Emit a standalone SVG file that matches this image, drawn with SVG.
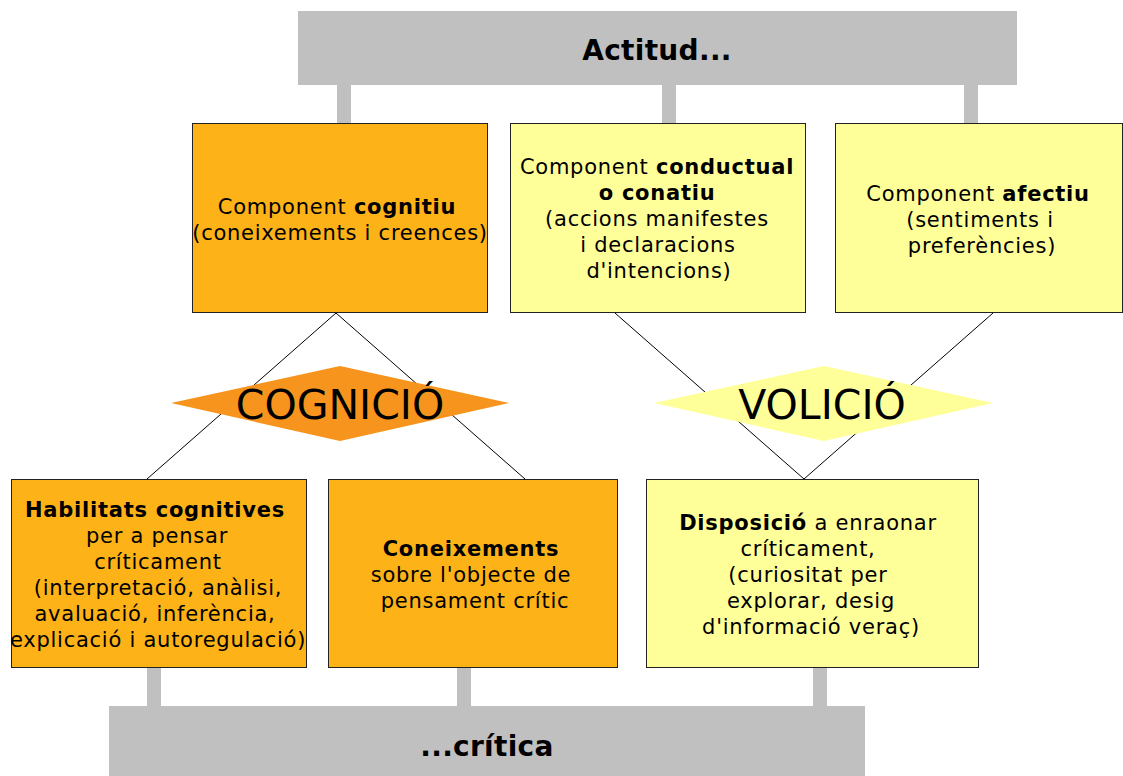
<svg xmlns="http://www.w3.org/2000/svg" width="1123" height="776" viewBox="0 0 1123 776">
<style>
text{font-family:"DejaVu Sans","Verdana",sans-serif;fill:#000;}
.t{font-size:21px;letter-spacing:0.75px;text-anchor:middle;}
.b{font-weight:bold;}
.bar{fill:#C0C0C0;}
.stub{fill:#C0C0C0;}
.org{fill:#FDB218;stroke:#222;stroke-width:1;}
.yel{fill:#FFFF99;stroke:#222;stroke-width:1;}
.line{stroke:#000;stroke-width:1;fill:none;}
.big{font-size:41px;text-anchor:middle;}
.head{font-size:28px;font-weight:bold;text-anchor:middle;letter-spacing:0.3px;}
</style>
<rect width="1123" height="776" fill="#fff"/>
<g id="connectors">
<rect class="stub" x="337" y="85" width="14" height="38"/>
<rect class="stub" x="662" y="85" width="14" height="38"/>
<rect class="stub" x="964" y="85" width="14" height="38"/>
<rect class="stub" x="147" y="667" width="14" height="39"/>
<rect class="stub" x="457" y="667" width="14" height="39"/>
<rect class="stub" x="813" y="667" width="14" height="39"/>
<line class="line" x1="336" y1="313" x2="147" y2="479"/>
<line class="line" x1="336" y1="313" x2="525" y2="479"/>
<line class="line" x1="615" y1="313" x2="804" y2="479"/>
<line class="line" x1="993" y1="313" x2="804" y2="479"/>
</g>
<g id="actitud">
<rect class="bar" x="298" y="11" width="719" height="74"/>
<text class="head" x="657" y="60">Actitud...</text>
</g>
<g id="critica">
<rect class="bar" x="109" y="706" width="756" height="70"/>
<text class="head" x="487" y="756">...crítica</text>
</g>
<g id="cognitiu">
<rect class="org" x="192.5" y="123.5" width="295" height="189"/>
<text class="t" x="337" y="214">Component <tspan class="b">cognitiu</tspan></text>
<text class="t" x="340" y="240">(coneixements i creences)</text>
</g>
<g id="conductual">
<rect class="yel" x="510.5" y="123.5" width="295" height="189"/>
<text class="t" x="657" y="174">Component <tspan class="b">conductual</tspan></text>
<text class="t b" x="657" y="200">o conatiu</text>
<text class="t" x="657" y="226">(accions manifestes</text>
<text class="t" x="658" y="252">i declaracions</text>
<text class="t" x="659" y="278">d'intencions)</text>
</g>
<g id="afectiu">
<rect class="yel" x="835.5" y="123.5" width="287" height="189"/>
<text class="t" x="978" y="201">Component <tspan class="b">afectiu</tspan></text>
<text class="t" x="980" y="227">(sentiments i</text>
<text class="t" x="982" y="253">preferències)</text>
</g>
<g id="cognicio">
<polygon points="171,403 340,366 509,403 340,441" fill="#F7941D"/>
<text class="big" x="340" y="419">COGNICIÓ</text>
</g>
<g id="volicio">
<polygon points="654,403 824,366 993,403 824,441" fill="#FFFF99"/>
<text class="big" x="822" y="419">VOLICIÓ</text>
</g>
<g id="habilitats">
<rect class="org" x="11.5" y="479.5" width="295" height="188"/>
<text class="t b" x="155" y="517">Habilitats cognitives</text>
<text class="t" x="157" y="543">per a pensar</text>
<text class="t" x="158" y="569">críticament</text>
<text class="t" x="158" y="595">(interpretació, anàlisi,</text>
<text class="t" x="155" y="621">avaluació, inferència,</text>
<text class="t" x="158" y="647">explicació i autoregulació)</text>
</g>
<g id="coneixements">
<rect class="org" x="328.5" y="479.5" width="289" height="188"/>
<text class="t b" x="471" y="556">Coneixements</text>
<text class="t" x="471" y="582">sobre l'objecte de</text>
<text class="t" x="475" y="608">pensament crític</text>
</g>
<g id="disposicio">
<rect class="yel" x="646.5" y="479.5" width="332" height="188"/>
<text class="t" x="808" y="530"><tspan class="b">Disposició</tspan> a enraonar</text>
<text class="t" x="808" y="556">críticament,</text>
<text class="t" x="808" y="582">(curiositat per</text>
<text class="t" x="811" y="608">explorar, desig</text>
<text class="t" x="811" y="634">d'informació veraç)</text>
</g>
</svg>
